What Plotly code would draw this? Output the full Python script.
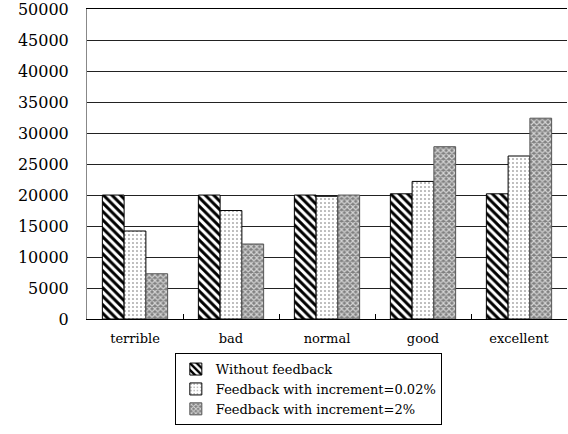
import plotly.graph_objects as go

categories = ["terrible", "bad", "normal", "good", "excellent"]
without_feedback = [20000, 20000, 20000, 20200, 20200]
feedback_002 = [14200, 17500, 19800, 22200, 26300]
feedback_2 = [7300, 12100, 20000, 27800, 32400]
series_names = ["Without feedback", "Feedback with increment=0.02%", "Feedback with increment=2%"]
y_ticks = [0, 5000, 10000, 15000, 20000, 25000, 30000, 35000, 40000, 45000, 50000]

FONT = "DejaVu Serif"

fig = go.Figure()
fig.add_trace(go.Bar(
    x=categories, y=without_feedback, name=series_names[0],
    marker=dict(color="white", line=dict(color="black", width=1),
                pattern=dict(shape="\\", fgcolor="black", bgcolor="white",
                             size=6, solidity=0.5, fillmode="replace")),
))
fig.add_trace(go.Bar(
    x=categories, y=feedback_002, name=series_names[1],
    marker=dict(color="white", line=dict(color="black", width=1),
                pattern=dict(shape=".", fgcolor="#666", bgcolor="white",
                             size=4, solidity=0.12, fillmode="replace")),
))
fig.add_trace(go.Bar(
    x=categories, y=feedback_2, name=series_names[2],
    marker=dict(color="#999", line=dict(color="#555", width=1),
                pattern=dict(shape="x", fgcolor="#d4d4d4", bgcolor="#808080",
                             size=4, solidity=0.5, fillmode="replace")),
))

fig.update_layout(
    width=568, height=434,
    margin=dict(l=87, r=1, t=9, b=115, autoexpand=False),
    paper_bgcolor="white", plot_bgcolor="white",
    barmode="group", bargap=0.32, bargroupgap=0,
    font=dict(family=FONT, color="black"),
    showlegend=True,
    legend=dict(
        x=0.183, y=-0.11, xanchor="left", yanchor="top",
        orientation="v",
        bordercolor="black", borderwidth=1,
        font=dict(family=FONT, size=13, color="black"),
        tracegroupgap=0, itemwidth=30,
    ),
    xaxis=dict(
        type="category", automargin=False,
        showline=True, linecolor="black", linewidth=1, mirror=True,
        ticks="inside", tickson="boundaries", ticklen=5, tickcolor="black",
        showgrid=False, ticklabelstandoff=7,
        tickfont=dict(family=FONT, size=13, color="black"),
    ),
    yaxis=dict(
        range=[0, 50020], automargin=False,
        tickvals=y_ticks,
        ticktext=[str(v) for v in y_ticks],
        showline=True, linecolor="#888", linewidth=1,
        showgrid=True, gridcolor="#222", gridwidth=1,
        zeroline=False, ticklabeloverflow="allow",
        ticks="", ticklabelstandoff=14,
        tickfont=dict(family=FONT, size=16, color="black"),
    ),
)

fig.write_html("out.html", config={"displayModeBar": False},
               post_script="document.body.style.margin='0px';")
